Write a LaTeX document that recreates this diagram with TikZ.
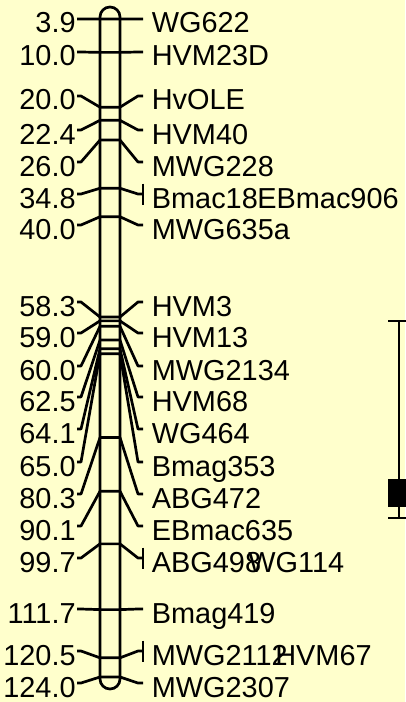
\documentclass[tikz,border=0pt]{standalone}
\usepackage{fontspec}
\setmainfont{Liberation Sans}
\definecolor{bg}{HTML}{FFFFCC}
\begin{document}
\begin{tikzpicture}[x=1bp,y=-1bp,line width=2.7bp,line join=round,
  lbl/.style={font=\fontsize{29}{31}\selectfont,inner sep=0pt}]
\useasboundingbox (0,0) rectangle (405,702);
\fill[bg] (0,0) rectangle (405,702);
% chromosome
\draw[rounded corners=10bp] (100,7) rectangle (120,689);
% markers: index / cM / label y / right label
\foreach \i/\cm/\ly/\nm in {
  1/3.9/19/WG622, 2/10.0/52/HVM23D, 3/20.0/96/HvOLE, 4/22.4/130/HVM40,
  5/26.0/162/MWG228, 6/34.8/194/Bmac18, 7/40.0/225/MWG635a,
  8/58.3/302/HVM3, 9/59.0/333/HVM13, 10/60.0/366/MWG2134,
  11/62.5/397/HVM68, 12/64.1/429/WG464, 13/65.0/462/Bmag353,
  14/80.3/494/ABG472, 15/90.1/526/EBmac635, 16/99.7/558/ABG498,
  17/111.7/609/Bmag419, 18/120.5/651/MWG2112, 19/124.0/683/MWG2307}{
  \pgfmathsetmacro\cy{-2.4+5.479*\cm}
  \coordinate (cl\i) at (100,\cy);
  \coordinate (cr\i) at (120,\cy);
  \coordinate (ll\i) at (77,\ly);
  \coordinate (lk\i) at (81,\ly);
  \coordinate (rk\i) at (138,\ly);
  \coordinate (rr\i) at (143,\ly);
  \node[lbl,anchor=base east] (L\i) at (77,\ly+14) {\cm};
  \node[lbl,anchor=base west] (R\i) at (150.5,\ly+14) {\nm};
  \draw (ll\i) -- (lk\i) -- (cl\i) -- (cr\i) -- (rk\i) -- (rr\i);
}
% second labels at shared positions
\node[lbl,anchor=base west] (R6b) at (256,208) {EBmac906};
\node[lbl,anchor=base west] (R16b) at (247,572) {WG114};
\node[lbl,anchor=base west] (R18b) at (274,665) {HVM67};
\foreach \i in {6,16,18}{
  \draw ([yshift=10.5bp]rr\i) -- ([yshift=-10.5bp]rr\i);
}
% QTL bar
\coordinate (qt) at (399,321);
\coordinate (qb) at (399,518);
\draw (qt) -- (qb);
\draw ([xshift=-11bp]qt) -- ([xshift=11bp]qt);
\draw ([xshift=-11bp]qb) -- ([xshift=11bp]qb);
\fill (388,479) rectangle (411,507);
\end{tikzpicture}
\end{document}
